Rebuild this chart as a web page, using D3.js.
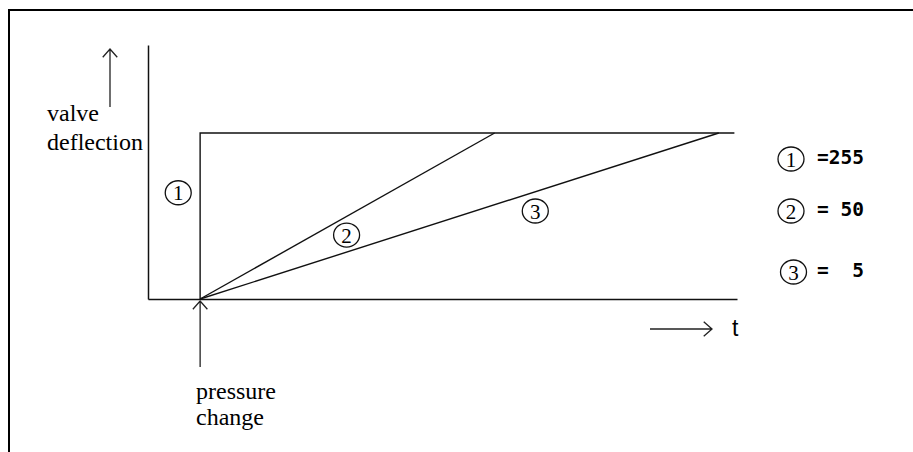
<!DOCTYPE html>
<html>
<head>
<meta charset="utf-8">
<script src="https://cdn.jsdelivr.net/npm/d3@7"></script>
<style>
	body { margin: 0; background: #fff; }
	svg { display: block; }
	.serif { font-family: "Liberation Serif", "Times New Roman", serif; fill: #000; }
	.mono { font-family: "DejaVu Sans Mono", "Liberation Mono", monospace; font-weight: bold; fill: #000; white-space: pre; }
</style>
</head>
<body>
<svg width="913" height="452"></svg>
<script>
// time in arbitrary units, deflection normalised to 1 = full open
var pressureChangeT = 1.0;
var seriesNames = ["1", "2", "3"];
var ramps = [255, 50, 5];
// time at which each curve reaches full deflection
var reachFullT = [1.0, 6.65, 10.95];
var plateauEndT = 11.25;
// where the circled numbers sit on the chart (time, deflection)
var markerT = [0.58, 3.81, 7.43];
var markerD = [0.64, 0.385, 0.53];

var svg = d3.select("svg"),
	margin = { top: 45, left: 148 },
	plotW = 589,
	plotH = 254;

var x = d3.scaleLinear().domain([0, 11.3]).range([0, plotW]),
	y = d3.scaleLinear().domain([0, 1.53]).range([plotH, 0]);

// frame
svg.append("path")
	.attr("d", "M9,452V10H913")
	.attr("fill", "none")
	.attr("stroke", "#000")
	.attr("stroke-width", 2);

var g = svg.append("g")
	.attr("transform", "translate(" + margin.left + "," + margin.top + ")");

g.append("g")
	.attr("class", "axis axis--x")
	.attr("transform", "translate(0," + plotH + ")")
	.call(d3.axisBottom(x).ticks(0).tickSizeOuter(0));

g.append("g")
	.attr("class", "axis axis--y")
	.call(d3.axisLeft(y).ticks(0).tickSizeOuter(0));

g.selectAll(".axis path")
	.attr("stroke", "#111")
	.attr("stroke-width", 1.5);

var line = d3.line()
	.x(function(d) { return x(d[0]); })
	.y(function(d) { return y(d[1]); });

// curve 1 is the step that also carries the plateau
var curves = reachFullT.map(function(t, i) {
	var pts = [[pressureChangeT, 0], [t, 1]];
	if (i == 0) pts.push([plateauEndT, 1]);
	return pts;
});

g.selectAll(".curve")
	.data(curves)
	.enter().append("path")
	.attr("class", "curve")
	.attr("d", line)
	.attr("fill", "none")
	.attr("stroke", "#111")
	.attr("stroke-width", 1.4);

function circled(sel, cx, cy, label) {
	var c = sel.append("g").attr("transform", "translate(" + cx + "," + cy + ")");
	c.append("ellipse")
		.attr("rx", 13)
		.attr("ry", 12)
		.attr("fill", "none")
		.attr("stroke", "#111")
		.attr("stroke-width", 1.3);
	c.append("text")
		.attr("class", "serif")
		.attr("text-anchor", "middle")
		.attr("y", 7.5)
		.style("font-size", "21px")
		.text(label);
}

seriesNames.forEach(function(n, i) {
	circled(g, x(markerT[i]), y(markerD[i]), n);
});

// legend
var legendY = [159, 211, 272],
	legendX = [791, 791, 793.5];
seriesNames.forEach(function(n, i) {
	circled(svg, legendX[i], legendY[i], n);
	svg.append("text")
		.attr("class", "mono")
		.attr("x", 817)
		.attr("y", legendY[i] + 4.5)
		.style("font-size", "19.5px")
		.text("=" + String(ramps[i]).padStart(3, " "));
});

function arrow(x1, y1, x2, y2) {
	var a = Math.atan2(y2 - y1, x2 - x1), L = 11, w = 0.72;
	var p = d3.path();
	p.moveTo(x1, y1);
	p.lineTo(x2, y2);
	p.moveTo(x2 - L * Math.cos(a - w), y2 - L * Math.sin(a - w));
	p.lineTo(x2, y2);
	p.lineTo(x2 - L * Math.cos(a + w), y2 - L * Math.sin(a + w));
	svg.append("path")
		.attr("d", p.toString())
		.attr("fill", "none")
		.attr("stroke", "#222")
		.attr("stroke-width", 1.3);
}

// y-axis label
arrow(110, 107, 110, 49);
svg.append("text").attr("class", "serif").attr("x", 47).attr("y", 121)
	.style("font-size", "24px").text("valve");
svg.append("text").attr("class", "serif").attr("x", 47).attr("y", 150)
	.style("font-size", "24px").text("deflection");

// pressure change marker
var x0 = margin.left + x(pressureChangeT);
arrow(x0, 367, x0, 301);
svg.append("text").attr("class", "serif").attr("x", 196).attr("y", 399)
	.style("font-size", "24px").text("pressure");
svg.append("text").attr("class", "serif").attr("x", 196).attr("y", 425)
	.style("font-size", "24px").text("change");

// time arrow
arrow(650, 329, 712, 329);
svg.append("text")
	.attr("x", 732)
	.attr("y", 336)
	.style("font-family", "'Liberation Sans', Arial, sans-serif")
	.style("font-size", "23px")
	.text("t");
</script>
</body>
</html>
